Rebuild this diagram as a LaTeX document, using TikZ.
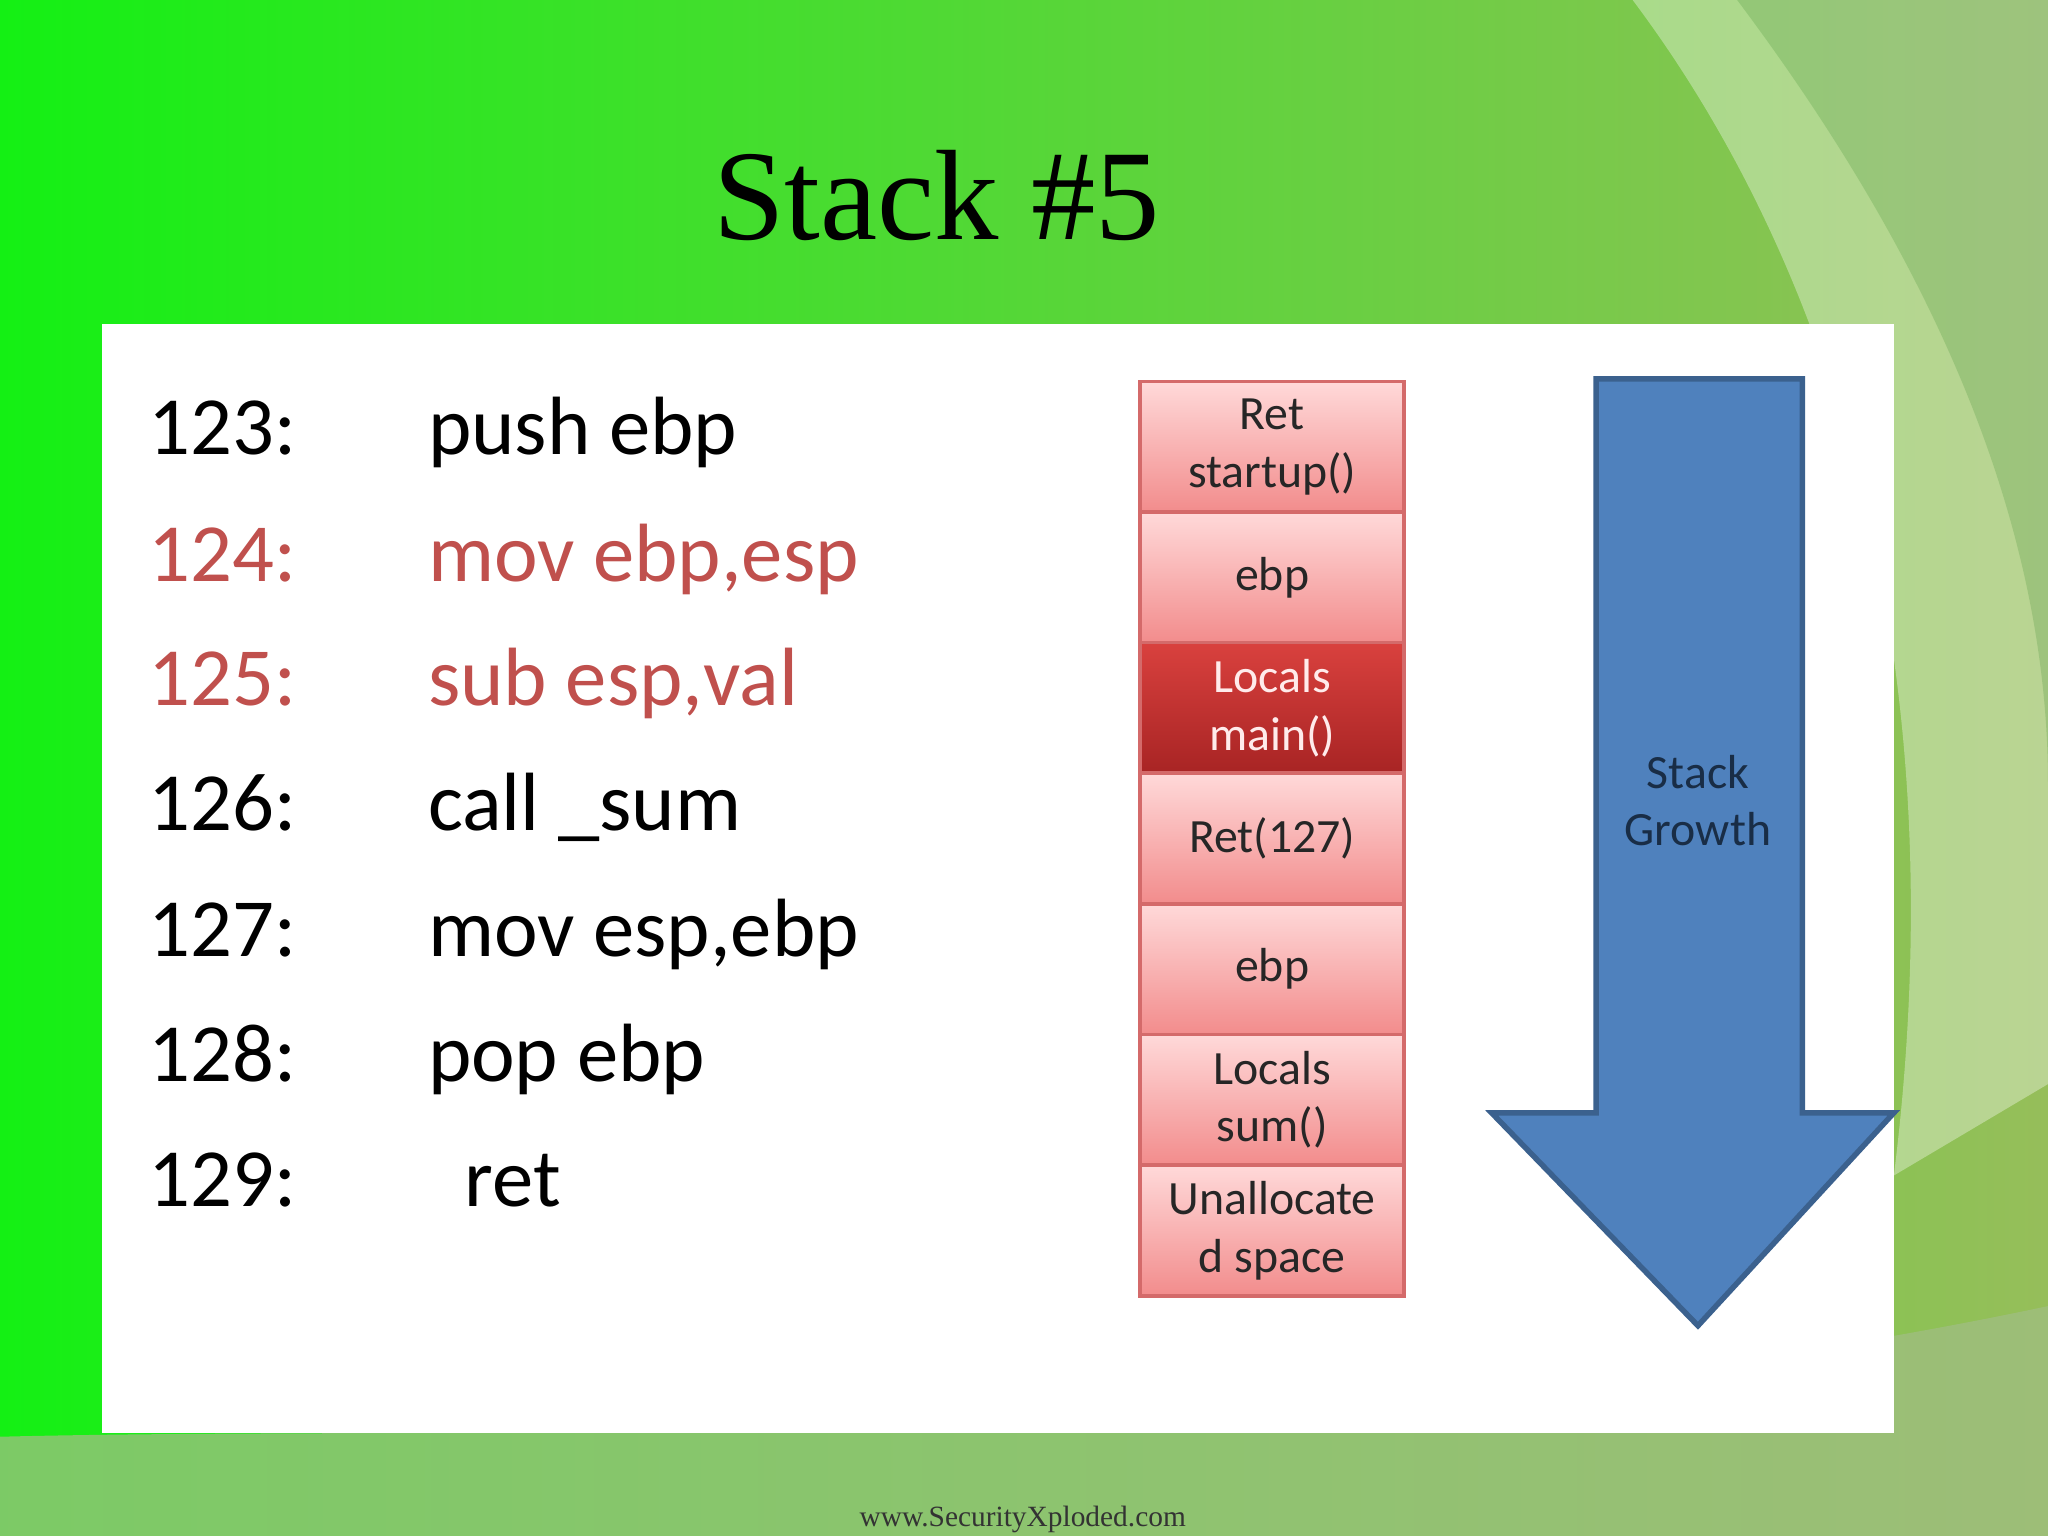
\documentclass[tikz,border=0pt]{standalone}
\usepackage{fontspec}
\setmainfont{Carlito}
\newfontfamily\serif{Liberation Serif}
\begin{document}
\begin{tikzpicture}[x=0.01cm,y=-0.01cm,
  code/.style={anchor=base west,inner sep=0pt,font=\fontsize{18}{22}\selectfont},
  cell/.style={draw=cellborder,line width=0.8pt,minimum width=2.02cm,minimum height=1cm,inner sep=0pt,align=center,
    font=\fontsize{10.4}{12.6}\selectfont,top color=cellTop,bottom color=cellBot,text=black!85},
  dark/.style={top color=darkTop,bottom color=darkBot,text=white!92!red}]
\definecolor{codered}{HTML}{C0504D}
\definecolor{cellborder}{HTML}{D46A6A}
\definecolor{cellTop}{HTML}{FFD9D9}
\definecolor{cellBot}{HTML}{F28C8C}
\definecolor{darkTop}{HTML}{D9413E}
\definecolor{darkBot}{HTML}{A82424}
\definecolor{arrowblue}{HTML}{4F81BD}
\definecolor{bottomband}{RGB}{160,190,130}
\useasboundingbox (0,0) rectangle (1568,1176);
% background
\shade[left color={rgb,255:red,20;green,240;blue,20},right color={rgb,255:red,150;green,190;blue,90}] (0,0) rectangle (1568,1176);
\fill[white,opacity=0.35] (1250,0) .. controls (1400,200) and (1500,500) .. (1450,900) -- (1568,830) -- (1568,0) -- cycle;
\fill[green!40!black,opacity=0.15] (1330,0) .. controls (1480,200) and (1568,400) .. (1568,600) -- (1568,0) -- cycle;
\fill[bottomband,opacity=0.75] (0,1100) .. controls (400,1090) and (1000,1120) .. (1568,1000) -- (1568,1176) -- (0,1176) -- cycle;
% white panel
\fill[white] (78,248) rectangle (1450,1097);
% title
\node[font=\serif\fontsize{28}{32}\selectfont] (title) at (717,150) {Stack \#5};
% code
\foreach \n/\y/\ins/\c [count=\i] in {123/328/push ebp/black,124/425/mov ebp{,}esp/codered,125/520/sub esp{,}val/codered,126/616/call \_sum/black,127/712/mov esp{,}ebp/black,128/808/pop ebp/black}{
  \node[code,text=\c] (n\i) at (113,\y+20) {\n:};
  \node[code,text=\c] (c\i) at (327,\y+20) {\ins};
}
\node[code] (n7) at (113,924) {129:};
\node[code] (c7) at (355,924) {ret};
% stack
\node[cell] (s1) at (974,342) {Ret\\startup()};
\node[cell] (s2) at (974,442) {ebp};
\node[cell,dark] (s3) at (974,542) {Locals\\main()};
\node[cell] (s4) at (974,642) {Ret(127)};
\node[cell] (s5) at (974,742) {ebp};
\node[cell] (s6) at (974,842) {Locals\\sum()};
\node[cell] (s7) at (974,942) {Unallocate\\d space};
% arrow
\draw[fill=arrowblue,draw=arrowblue!75!black,line width=1.2pt] (1222,290) -- (1380,290) -- (1380,852) -- (1450,852) -- (1300,1015) -- (1142,852) -- (1222,852) -- cycle;
\node[align=center,text={rgb,255:red,25;green,45;blue,70},font=\fontsize{10.4}{12.6}\selectfont] (sg) at (1300,613) {Stack\\Growth};
% footer
\node[font=\serif\fontsize{6.4}{8}\selectfont,text=black!80] (foot) at (783,1163) {www.SecurityXploded.com};
\end{tikzpicture}
\end{document}
